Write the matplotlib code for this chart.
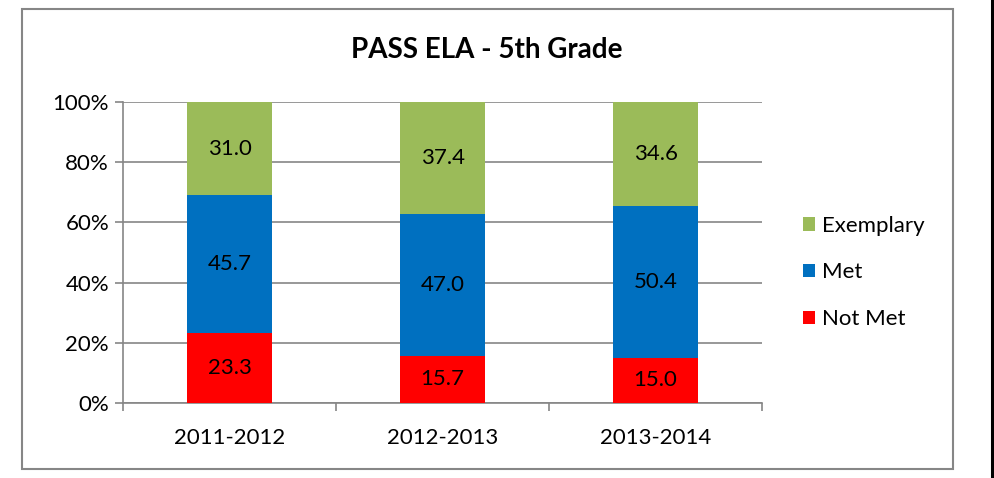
import numpy as np
import matplotlib.pyplot as plt
from matplotlib.patches import Rectangle
from matplotlib.lines import Line2D

plt.rcParams['font.family'] = ['Lato', 'DejaVu Sans']

years = ['2011-2012', '2012-2013', '2013-2014']
not_met = [23.3, 15.7, 15.0]
met = [45.7, 47.0, 50.4]
exemplary = [31.0, 37.4, 34.6]

series = [('Not Met', not_met, '#FF0000'),
          ('Met', met, '#0070C0'),
          ('Exemplary', exemplary, '#9BBB59')]

fig = plt.figure(figsize=(9.94, 4.78), dpi=100)
ax = fig.add_axes([0.1237, 0.1569, 0.643, 0.6297])

x = np.arange(len(years))
bottom = np.zeros(len(years))
handles = []
for name, vals, col in series:
    vals = np.array(vals)
    bars = ax.bar(x, vals, 0.4, bottom=bottom, color=col, label=name, zorder=3)
    for xi, b, v in zip(x, bottom, vals):
        ax.text(xi, b + v / 2, f'{v:.1f}', ha='center', va='center', fontsize=16, zorder=4)
    bottom = bottom + vals
    handles.append(bars)

ax.set_xlim(-0.5, 2.5)
ax.set_ylim(0, 100)
ax.set_yticks(np.arange(0, 101, 20))
ax.set_yticklabels([f'{v}%' for v in range(0, 101, 20)], fontsize=16)
ax.set_xticks(x)
ax.set_xticklabels(years, fontsize=16)
ax.set_xticks([-0.5, 0.5, 1.5, 2.5], minor=True)
ax.tick_params(axis='x', which='major', length=0, pad=18)
ax.tick_params(axis='x', which='minor', length=6, color='#868686', width=1.2)
ax.tick_params(axis='y', length=6, color='#868686', width=1.2, pad=4)
ax.grid(axis='y', color='#868686', linewidth=1.2, zorder=0)
for s in ['top', 'right']:
    ax.spines[s].set_visible(False)
for s in ['left', 'bottom']:
    ax.spines[s].set_color('#868686')
    ax.spines[s].set_linewidth(1.2)

fig.text(0.49, 0.895, 'PASS ELA - 5th Grade', ha='center', va='center',
         fontsize=20, fontweight='bold')

leg = fig.legend(handles[::-1], [s[0] for s in series][::-1], loc='center left',
                 bbox_to_anchor=(0.788, 0.43), frameon=False, fontsize=16,
                 handlelength=0.55, handleheight=0.55, handletextpad=0.3,
                 labelspacing=1.2)

# chart border
fig.patches.append(Rectangle((0.0221, 0.0188), 0.9366, 0.9623, transform=fig.transFigure,
                             fill=False, edgecolor='#868686', linewidth=1.5))
fig.lines.append(Line2D([0.9975, 0.9975], [0, 1], transform=fig.transFigure,
                        color='black', linewidth=2.2))

fig.savefig('out.png', dpi=100)
